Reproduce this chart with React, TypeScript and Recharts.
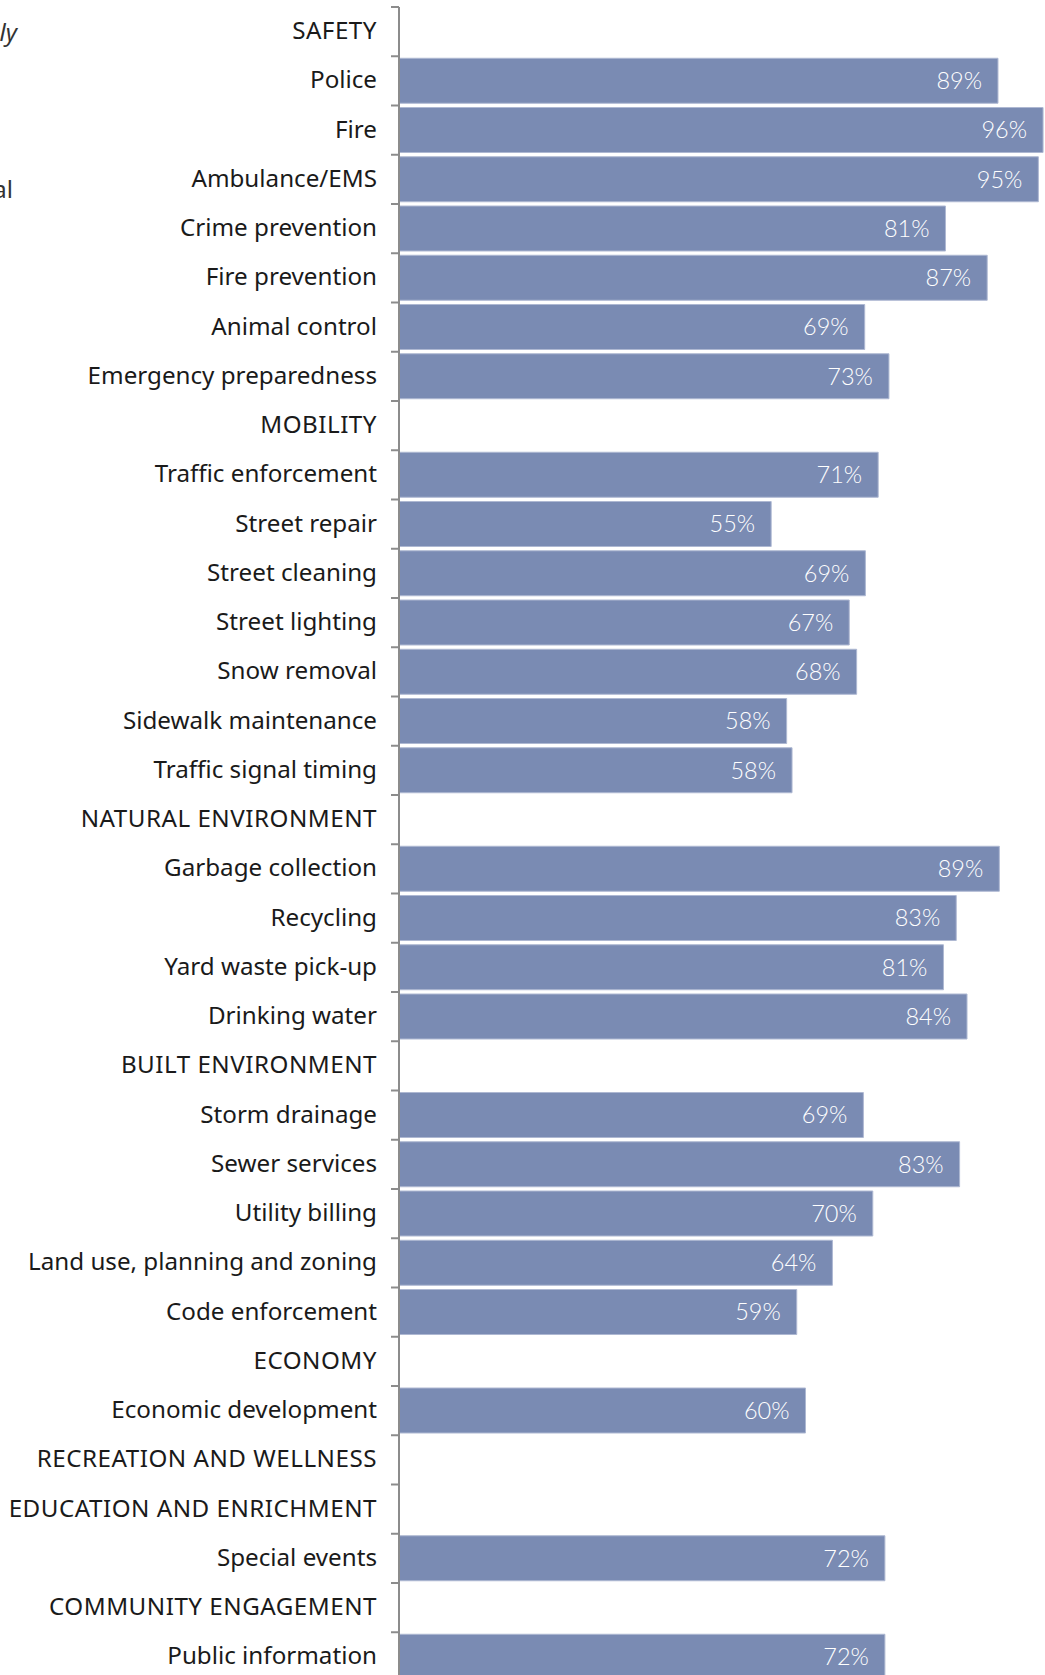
import { BarChart, Bar, XAxis, YAxis, LabelList } from "recharts";

const categories = [
  "SAFETY",
  "Police",
  "Fire",
  "Ambulance/EMS",
  "Crime prevention",
  "Fire prevention",
  "Animal control",
  "Emergency preparedness",
  "MOBILITY",
  "Traffic enforcement",
  "Street repair",
  "Street cleaning",
  "Street lighting",
  "Snow removal",
  "Sidewalk maintenance",
  "Traffic signal timing",
  "NATURAL ENVIRONMENT",
  "Garbage collection",
  "Recycling",
  "Yard waste pick-up",
  "Drinking water",
  "BUILT ENVIRONMENT",
  "Storm drainage",
  "Sewer services",
  "Utility billing",
  "Land use, planning and zoning",
  "Code enforcement",
  "ECONOMY",
  "Economic development",
  "RECREATION AND WELLNESS",
  "EDUCATION AND ENRICHMENT",
  "Special events",
  "COMMUNITY ENGAGEMENT",
  "Public information",
];

// percent rating "excellent or good" (null = section heading)
const values: (number | null)[] = [
  null, 89.0, 95.7, 95.0, 81.2, 87.4, 69.2, 72.8,
  null, 71.2, 55.3, 69.3, 66.9, 68.0, 57.6, 58.4,
  null, 89.2, 82.8, 80.9, 84.4,
  null, 69.0, 83.3, 70.4, 64.4, 59.1,
  null, 60.4,
  null,
  null, 72.2,
  null, 72.2,
];

const cutOffLabels = ["ly", "al"];

const data = categories.map((name, i) => ({ name, value: values[i] }));

const CHART_W = 1080;
const CHART_H = 1690;
const TOP = 7;
const BOTTOM = 8.5;
const BAND = (CHART_H - TOP - BOTTOM) / categories.length;
const TICK_SIZE = 8;
const TICK_MARGIN = 14;
const AXIS_GREY = "#8c8c8c";
const BAR_COLOR = "#7a8bb3";

function CategoryTick(props: any) {
  const { x, y, payload } = props;
  const lineX = x + TICK_MARGIN;
  const top = y - BAND / 2;
  const heading = payload.value === payload.value.toUpperCase();
  return (
    <g>
      <line x1={lineX} x2={lineX + TICK_SIZE} y1={top} y2={top} stroke={AXIS_GREY} strokeWidth={2} />
      <text
        x={x}
        y={y}
        dy={7.5}
        textAnchor="end"
        fill="#1a1a1a"
        fontSize={24.2}
        letterSpacing={heading ? 0.5 : 0}
        fontFamily="'Noto Sans', sans-serif"
      >
        {payload.value}
      </text>
    </g>
  );
}

export default function App() {
  return (
    <div style={{ position: "absolute", left: 0, top: 0, width: 1045, height: 1675, overflow: "hidden", background: "#fff" }}>
      <svg width={40} height={220} style={{ position: "absolute", left: 0, top: 0 }}>
        <text x={17} y={41} textAnchor="end" fontSize={24} fontStyle="italic" fill="#333" fontFamily="'Noto Sans', sans-serif">
          {cutOffLabels[0]}
        </text>
        <text x={13} y={198} textAnchor="end" fontSize={24} fill="#333" fontFamily="'Noto Sans', sans-serif">
          {cutOffLabels[1]}
        </text>
      </svg>
      <BarChart
        width={CHART_W}
        height={CHART_H}
        data={data}
        layout="vertical"
        margin={{ top: TOP, right: 8, bottom: BOTTOM, left: 0 }}
        style={{ position: "absolute", left: 0, top: 0 }}
      >
        <XAxis type="number" domain={[0, 100]} hide />
        <YAxis
          type="category"
          dataKey="name"
          width={399}
          interval={0}
          tickLine={false}
          tickSize={TICK_SIZE}
          tickMargin={TICK_MARGIN}
          axisLine={{ stroke: AXIS_GREY, strokeWidth: 2 }}
          tick={<CategoryTick />}
        />
        <Bar dataKey="value" fill={BAR_COLOR} stroke="#aeb8d2" strokeWidth={1} barSize={45} isAnimationActive={false}>
          <LabelList
            dataKey="value"
            position="insideRight"
            offset={16}
            fill="#ffffff"
            fontSize={23.5}
            fontWeight={300}
            fontFamily="Lato, 'Open Sans', sans-serif"
            formatter={(v: any) => (v == null ? "" : `${Math.round(v)}%`)}
          />
        </Bar>
      </BarChart>
    </div>
  );
}
